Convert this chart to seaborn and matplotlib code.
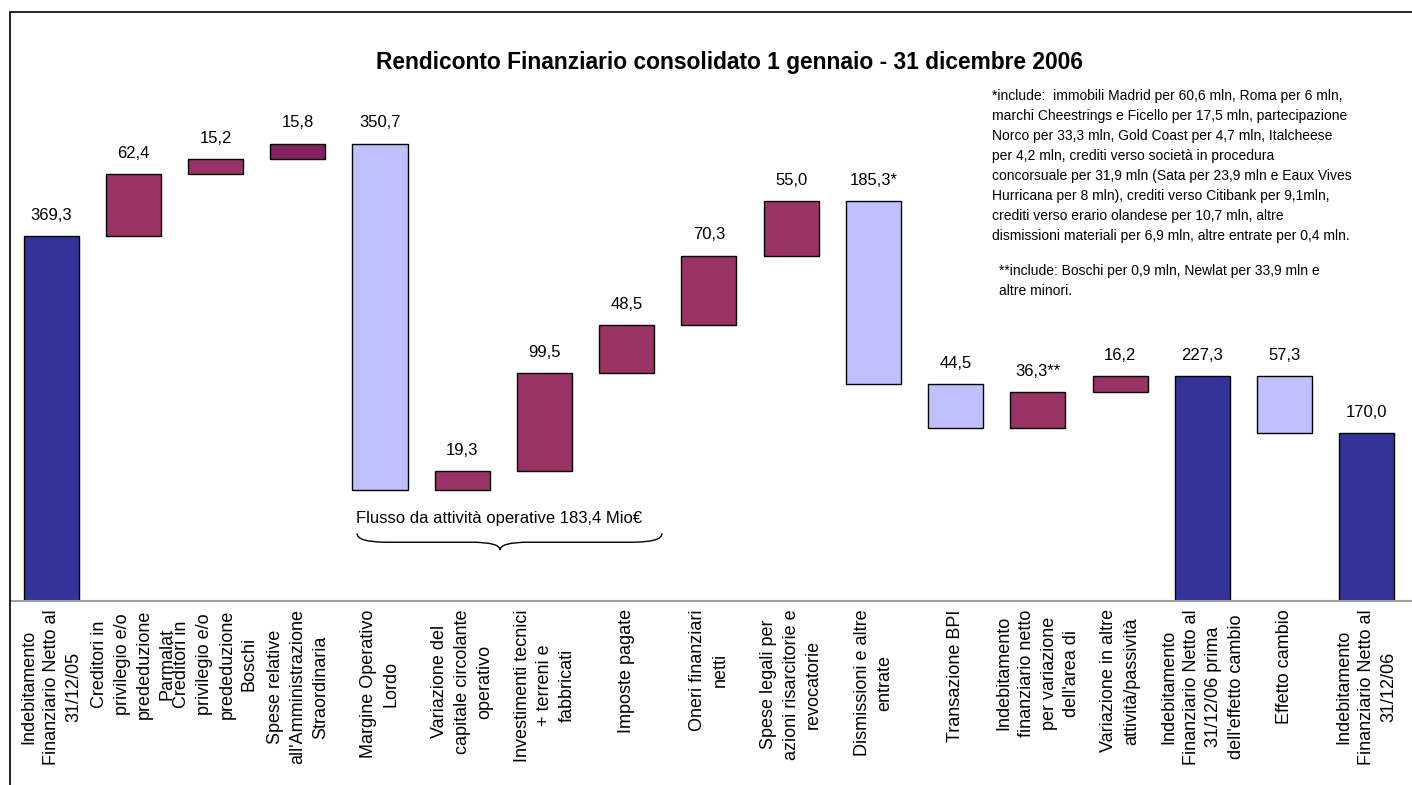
import numpy as np
import pandas as pd
import matplotlib
matplotlib.use("Agg")
import matplotlib.pyplot as plt
from matplotlib.lines import Line2D
from matplotlib.path import Path
from matplotlib.patches import PathPatch
import seaborn as sns

# Data (Mio €)
categories = [
    "Indebitamento\nFinanziario Netto al\n31/12/05",
    "Creditori in\nprivilegio e/o\nprededuzione\nParmalat",
    "Creditori in\nprivilegio e/o\nprededuzione\nBoschi",
    "Spese relative\nall'Amministrazione\nStraordinaria",
    "Margine Operativo\nLordo",
    "Variazione del\ncapitale circolante\noperativo",
    "Investimenti tecnici\n+ terreni e\nfabbricati",
    "Imposte pagate",
    "Oneri finanziari\nnetti",
    "Spese legali per\nazioni risarcitorie e\nrevocatorie",
    "Dismissioni e altre\nentrate",
    "Transazione BPI",
    "Indebitamento\nfinanziario netto\nper variazione\ndell'area di",
    "Variazione in altre\nattività/passività",
    "Indebitamento\nFinanziario Netto al\n31/12/06 prima\ndell'effetto cambio",
    "Effetto cambio",
    "Indebitamento\nFinanziario Netto al\n31/12/06",
]
values = [369.3, 62.4, 15.2, 15.8, 350.7, 19.3, 99.5, 48.5, 70.3, 55.0,
          185.3, 44.5, 36.3, 16.2, 227.3, 57.3, 170.0]
kinds = ["total", "up", "up", "up", "down", "up", "up", "up", "up", "up",
         "down", "down", "up", "up", "total", "down", "total"]
suffixes = ["", "", "", "", "", "", "", "", "", "", "*", "", "**", "", "", "", ""]

title = "Rendiconto Finanziario consolidato 1 gennaio - 31 dicembre 2006"
note1 = ("*include:  immobili Madrid per 60,6 mln, Roma per 6 mln,\n"
         "marchi Cheestrings e Ficello per 17,5 mln, partecipazione\n"
         "Norco per 33,3 mln, Gold Coast per 4,7 mln, Italcheese\n"
         "per 4,2 mln, crediti verso società in procedura\n"
         "concorsuale per 31,9 mln (Sata per 23,9 mln e Eaux Vives\n"
         "Hurricana per 8 mln), crediti verso Citibank per 9,1mln,\n"
         "crediti verso erario olandese per 10,7 mln, altre\n"
         "dismissioni materiali per 6,9 mln, altre entrate per 0,4 mln.")
note2 = "**include: Boschi per 0,9 mln, Newlat per 33,9 mln e\naltre minori."
brace_text = "Flusso da attività operative 183,4 Mio€"

# waterfall bases
level = 0.0
bottoms = []
for v, k in zip(values, kinds):
    if k == "total":
        bottoms.append(0.0)
        level = v
    elif k == "up":
        bottoms.append(level)
        level += v
    else:
        level -= v
        bottoms.append(level)

df = pd.DataFrame({"voce": categories, "valore": values, "base": bottoms, "tipo": kinds})

sns.set_style("white")
plt.rcParams["font.family"] = ["Liberation Sans", "DejaVu Sans"]
plt.rcParams["text.color"] = "black"
plt.rcParams["xtick.color"] = "black"

W, H = 1412, 785
fig = plt.figure(figsize=(W / 100, H / 100), dpi=100)
ax = fig.add_axes([10 / W, (H - 601) / H, (W - 10) / W, (601 - 12) / H])

sns.barplot(data=df, x="voce", y="valore", order=categories, bottom=df["base"].values,
            width=0.67, errorbar=None, color="#993366", saturation=1,
            edgecolor="black", linewidth=1.0, ax=ax)

colors = {"total": "#333399", "up": "#993366", "down": "#C0C0FF"}
for patch, k in zip(ax.patches, kinds):
    patch.set_facecolor(colors[k])
ax.patches[3].set_facecolor("#822060")

# value labels above each bar
for i, (v, b, s) in enumerate(zip(values, bottoms, suffixes)):
    txt = f"{v:.1f}".replace(".", ",") + s
    ax.annotate(txt, (i, b + v), xytext=(0, 15), textcoords="offset points",
                ha="center", va="center", fontsize=12, color="black")

ax.set_xlim(-0.5, 16.55)
ax.set_ylim(0, 596)
ax.set_xlabel("")
ax.set_ylabel("")
ax.set_yticks([])
ax.set_xticks(range(len(categories)))
ax.set_xticklabels(categories, rotation=90, ha="center", va="top",
                   multialignment="center", linespacing=1.42, fontsize=13, color="black")
ax.tick_params(axis="x", length=0, pad=6)
for side in ["left", "right", "top"]:
    ax.spines[side].set_visible(False)
ax.spines["bottom"].set_color("#A0A0A0")
ax.spines["bottom"].set_linewidth(1.5)

# brace under the operating items
x0, x1, xt = 3.72, 7.43, 5.46
ytop, ymid, ytip = 68.5, 59.5, 51.5
q = 0.35
verts = [(x0, ytop), (x0, ymid), (x0 + q, ymid),
         (xt - q, ymid), (xt, ymid), (xt, ytip),
         (xt, ymid), (xt + q, ymid),
         (x1 - q, ymid), (x1, ymid), (x1, ytop)]
codes = [Path.MOVETO, Path.CURVE3, Path.CURVE3,
         Path.LINETO, Path.CURVE3, Path.CURVE3,
         Path.CURVE3, Path.CURVE3,
         Path.LINETO, Path.CURVE3, Path.CURVE3]
ax.add_patch(PathPatch(Path(verts, codes), facecolor="none", edgecolor="black", linewidth=1.0))
ax.text(5.45, 83, brace_text, ha="center", va="center", fontsize=12, color="black")

# chart texts
fig.text(729 / W, 1 - 62 / H, title, ha="center", va="center", fontsize=16.4,
         fontweight="bold", color="black")
fig.text(992 / W, 1 - 89 / H, note1, ha="left", va="top", fontsize=10,
         linespacing=1.55, color="black")
fig.text(999 / W, 1 - 264 / H, note2, ha="left", va="top", fontsize=10,
         linespacing=1.55, color="black")

# outer chart border (left and top)
fig.add_artist(Line2D([10 / W, 10 / W], [0, 1 - 12 / H], transform=fig.transFigure, color="black", linewidth=1.2))
fig.add_artist(Line2D([10 / W, 1], [1 - 12 / H, 1 - 12 / H], transform=fig.transFigure, color="black", linewidth=1.2))

fig.savefig("out.png", dpi=100)
